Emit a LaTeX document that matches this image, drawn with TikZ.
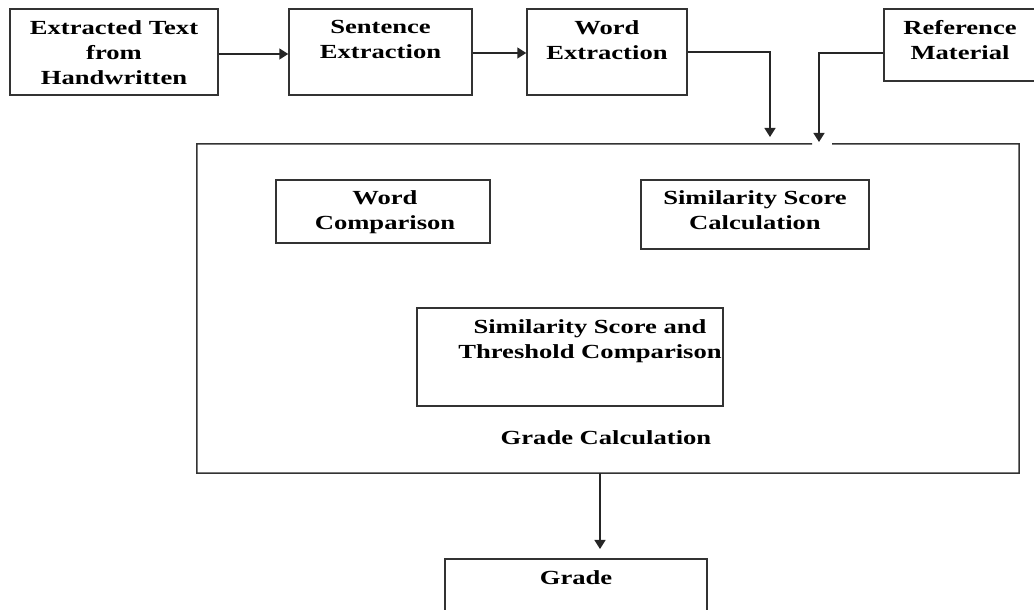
\documentclass[tikz,border=0pt]{standalone}
\usepackage{fontspec}
\setmainfont{Liberation Serif}[FakeStretch=1.33]
\usetikzlibrary{arrows.meta}
\begin{document}
\begin{tikzpicture}[x=1pt,y=1pt,
  boxed/.style={draw=black!80, line width=1.5pt, inner sep=0pt, minimum width=#1},
  ghost/.style={draw=none, inner sep=0pt},
  lbl/.style={font=\fontsize{20}{25}\selectfont\bfseries, align=center, inner sep=0pt, anchor=north},
  conn/.style={draw=black!85, line width=1.5pt, -{Triangle[width=11pt,length=9pt]}},
  plain/.style={draw=black!80, line width=1.5pt}
]
\useasboundingbox (0,0) rectangle (1034,610);
% top row boxes
\node[boxed=208, minimum height=86] (b1) at (114,558) {};
\node[boxed=183, minimum height=86] (b2) at (380.5,558) {};
\node[boxed=160, minimum height=86] (b3) at (607,558) {};
\node[boxed=156, minimum height=72] (b4) at (962,565) {};
\node[lbl] (t1) at ([yshift=-12]b1.north) {Extracted Text\\from\\Handwritten};
\node[lbl] (t2) at ([yshift=-12]b2.north) {Sentence\\Extraction};
\node[lbl] (t3) at ([yshift=-12]b3.north) {Word\\Extraction};
\node[lbl] (t4) at ([xshift=-2,yshift=-12]b4.north) {Reference\\Material};
% big box
\node[ghost, minimum width=822, minimum height=329] (big) at (608,301.5) {};
\coordinate (gapL) at (812,466);
\coordinate (gapR) at (832,466);
\draw[plain] (gapR) -- (big.north east) -- (big.south east) -- (big.south west) -- (big.north west) -- (gapL);
% inner boxes
\node[boxed=214, minimum height=63] (wc) at (383,398.5) {};
\node[boxed=228, minimum height=69] (ssc) at (755,395.5) {};
\node[boxed=306, minimum height=98] (sst) at (570,253) {};
\node[lbl] (twc) at ([xshift=2,yshift=-11]wc.north) {Word\\Comparison};
\node[lbl] (tssc) at ([yshift=-11]ssc.north) {Similarity Score\\Calculation};
\node[lbl] (tsst) at ([xshift=20,yshift=-12]sst.north) {Similarity Score and\\Threshold Comparison};
\node[lbl, anchor=base] (gc) at (606,165) {Grade Calculation};
% grade box
\node[boxed=262, minimum height=70] (grade) at (576,16) {};
\node[lbl] (tg) at ([yshift=-12]grade.north) {Grade};
% connectors
\coordinate (in1) at (770,473);
\coordinate (in2) at (819,468);
\coordinate (out1) at (600,137);
\coordinate (gin) at (600,61);
\draw[conn] ([yshift=-2]b1.east) -- ([yshift=-2]b2.west);
\draw[conn] ([yshift=-1]b2.east) -- ([yshift=-1]b3.west);
\draw[conn] (b3.east) -| (in1);
\draw[conn] ([yshift=-8]b4.west) -| (in2);
\draw[conn] (out1) -- (gin);
\end{tikzpicture}
\end{document}
